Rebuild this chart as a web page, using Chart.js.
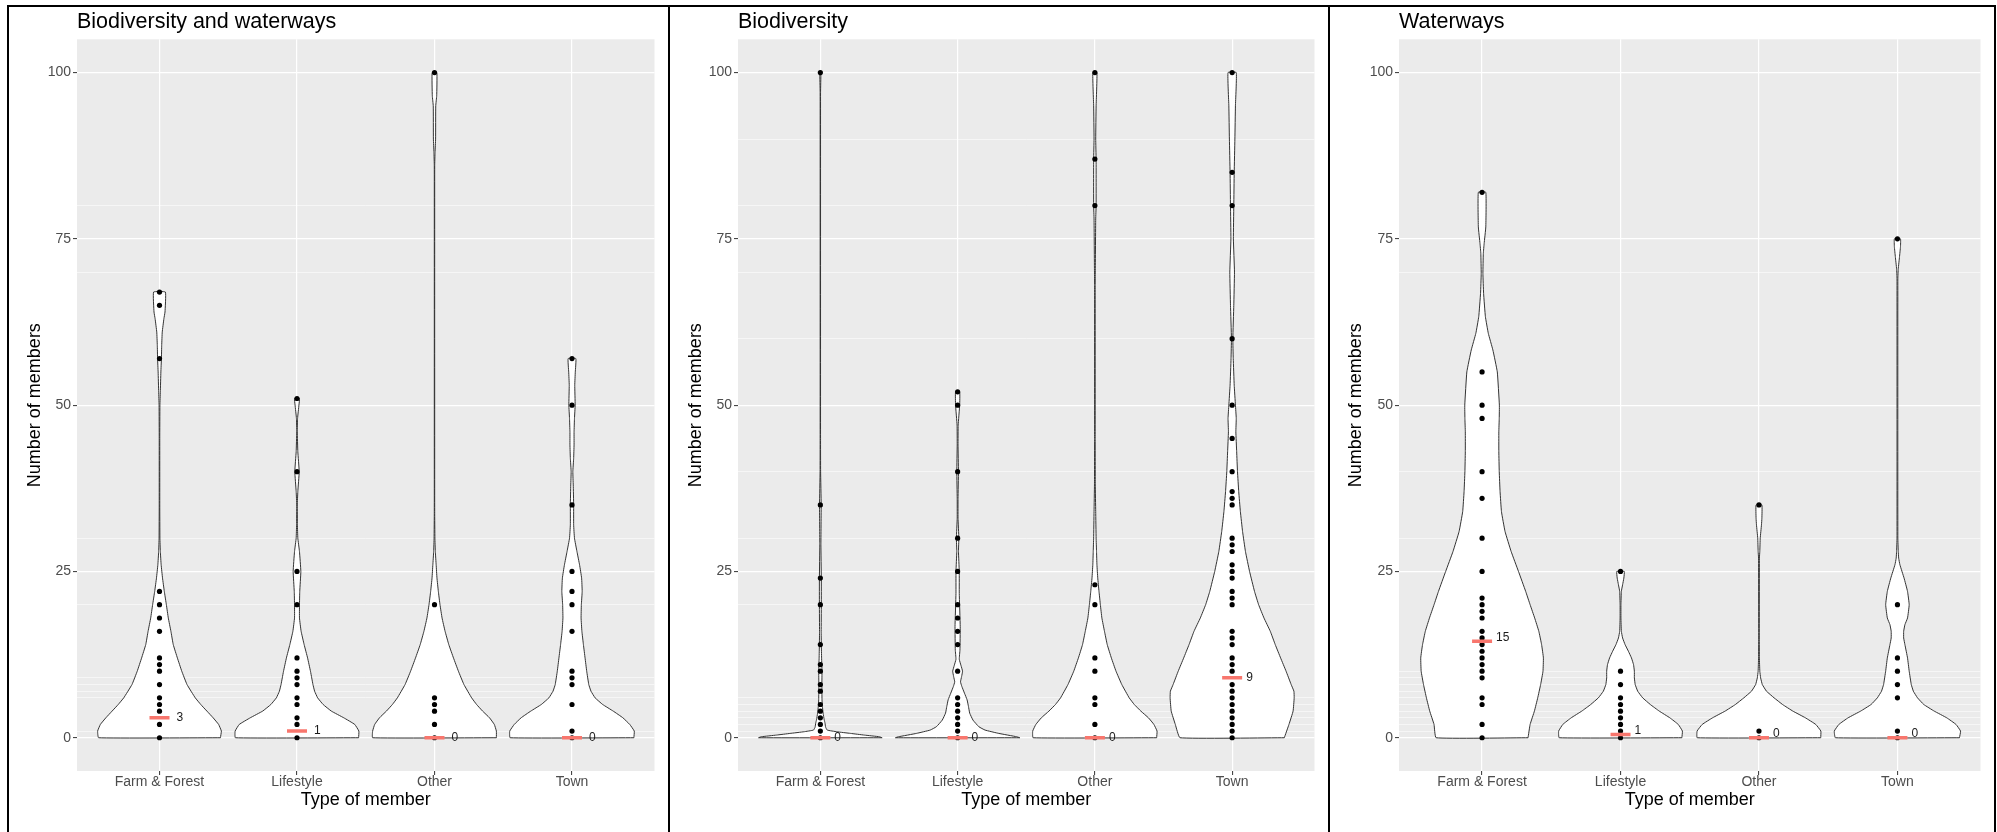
<!DOCTYPE html>
<html>
<head>
<meta charset="utf-8">
<script src="https://cdn.jsdelivr.net/npm/chart.js@4.4.1/dist/chart.umd.min.js"></script>
<style>
  body { margin: 0; background: #fff; }
  #wrap { position: relative; width: 1997px; height: 832px; overflow: hidden; }
  .line { position: absolute; background: #000; }
  canvas { position: absolute; }
</style>
</head>
<body>
<div id="wrap">
  <div class="line" style="left:7px;top:5px;width:1989px;height:2px"></div>
  <div class="line" style="left:7px;top:5px;width:2px;height:827px"></div>
  <div class="line" style="left:668px;top:5px;width:2px;height:827px"></div>
  <div class="line" style="left:1328px;top:5px;width:2px;height:827px"></div>
  <div class="line" style="left:1994px;top:5px;width:2px;height:827px"></div>
  <canvas id="chartBW" width="659" height="824" style="left:9px;top:8px"></canvas>
  <canvas id="chartB" width="658" height="824" style="left:670px;top:8px"></canvas>
  <canvas id="chartW" width="664" height="824" style="left:1330px;top:8px"></canvas>
</div>
<script>
// categorias y ejes
const categories = ['Farm & Forest', 'Lifestyle', 'Other', 'Town'];
const majorTicks = [0, 25, 50, 75, 100];
const minorTicksBW = [80, 70, 30, 20, 9, 8, 7, 6, 1];
const minorTicksB = [90, 80, 70, 60, 40, 30, 20, 6, 5, 4, 3, 2, 1];
const minorTicksW = [70, 40, 30, 10, 9, 8, 7, 6, 5, 4, 3, 2, 1];

// BIODIVERSITY AND WATERWAYS
const pointsBW = [
  [0, 2, 4, 5, 6, 8, 10, 11, 12, 16, 18, 20, 22, 57, 65, 67],
  [0, 2, 3, 5, 6, 8, 9, 10, 12, 20, 25, 40, 51],
  [0, 2, 4, 5, 6, 20, 100],
  [0, 1, 5, 8, 9, 10, 16, 20, 22, 25, 35, 50, 57]
];
const mediansBW = [3, 1, 0, 0];
const medianTextBW = ['3', '1', '0', '0'];
const violinYBW = [
  [0,1,2,3,4,5,6,8,10,12,14,16,18,20,22,24,26,28,30,35,45,50,52,55,57,59,61,63,64,67],
  [0,1,2,3,4,5,6,7,8,9,10,12,14,16,18,20,22,25,28,30,32,35,37,40,43,46,48,50,51],
  [0,1,2,3,4,5,6,8,10,12,14,16,18,20,22,24,26,28,30,34,86,88,90,95,96.5,100],
  [0,1,2,3,4,5,6,7,8,10,12,14,16,18,20,22,24,26,28,30,32,35,38,40,42,44,46,48,50,53,55,57]
];
const violinWBW = [
  [.443,.45,.43,.39,.345,.30,.26,.20,.162,.13,.10,.083,.064,.05,.035,.022,.012,.006,.003,.002,.002,.003,.006,.01,.014,.016,.02,.032,.04,.043],
  [.448,.45,.42,.34,.25,.19,.15,.128,.116,.107,.098,.077,.052,.03,.018,.018,.02,.028,.018,.006,.003,.002,.006,.016,.006,.002,.004,.014,.018],
  [.45,.45,.435,.40,.35,.306,.27,.214,.174,.138,.104,.077,.055,.04,.028,.018,.012,.006,.003,.0015,.0015,.004,.008,.009,.016,.017],
  [.45,.453,.42,.37,.30,.223,.168,.138,.122,.107,.095,.083,.072,.066,.068,.074,.07,.055,.036,.018,.012,.012,.009,.006,.012,.015,.015,.018,.023,.02,.024,.028]
];

// BIODIVERSITY
const pointsB = [
  [0, 1, 2, 3, 4, 5, 7, 8, 10, 11, 14, 20, 24, 35, 100],
  [0, 1, 2, 3, 4, 5, 6, 10, 14, 16, 18, 20, 25, 30, 40, 50, 52],
  [0, 2, 5, 6, 10, 12, 20, 23, 80, 87, 100],
  [0, 1, 2, 3, 4, 5, 6, 7, 8, 10, 11, 12, 14, 15, 16, 20, 21, 22, 24, 25, 26, 28, 29, 30, 35, 36, 37, 40, 45, 50, 60, 80, 85, 100]
];
const mediansB = [0, 0, 0, 9];
const medianTextB = ['0', '0', '0', '9'];
const violinYB = [
  [0,0.15,0.4,0.65,0.9,1.15,1.6,2.2,2.7,3.7,4.7,5.7,8,10,12,14,16,20,24,29,35,40,45,97,100],
  [0,0.15,0.65,1.15,1.65,2.65,3.7,4.7,5.7,6.7,7.7,8.4,9.2,10,10.9,11.8,13.2,16.7,21.7,25,28,30,33,36,40,44,47,50,52],
  [0,1,2,3,4,5,6,8,10,12,14,16,18,20,22,24,26,28,30,34,38,45,68,70,78,80,87,90,95,100],
  [0,2,4,6,7,8,10,12,14,16,18,20,22,25,28,31,34,37,40,43,46,48,50,53,57,60,65,70,75,80,85,90,95,100]
];
const violinWB = [
  [.45,.43,.32,.22,.12,.05,.038,.034,.028,.02,.015,.012,.011,.012,.009,.007,.006,.007,.007,.004,.006,.002,.0015,.0015,.004],
  [.453,.43,.3,.2,.155,.112,.088,.079,.069,.05,.031,.021,.029,.036,.024,.012,.017,.019,.012,.012,.006,.009,.003,.003,.006,.003,.004,.015,.015],
  [.45,.453,.43,.39,.335,.287,.25,.196,.154,.12,.09,.07,.051,.04,.03,.021,.015,.012,.009,.006,.003,.002,.002,.003,.006,.009,.009,.006,.009,.015],
  [.38,.414,.444,.452,.45,.43,.393,.353,.314,.278,.232,.193,.163,.127,.097,.076,.06,.048,.039,.033,.027,.03,.024,.015,.008,.005,.012,.017,.009,.012,.015,.02,.024,.03]
];

// WATERWAYS
const pointsW = [
  [0, 2, 5, 6, 9, 10, 11, 12, 13, 14, 15, 16, 18, 19, 20, 21, 25, 30, 36, 40, 48, 50, 55, 82],
  [0, 1, 2, 3, 4, 5, 6, 8, 10, 25],
  [0, 1, 35],
  [0, 1, 6, 8, 10, 12, 20, 75]
];
const mediansW = [14.5, 0.5, 0, 0];
const medianTextW = ['15', '1', '0', '0'];
const violinYW = [
  [0,2,4,6,8,10,12,14,16,18,20,22,25,28,31,34,37,40,43,46,48,50,55,58.3,60.8,63.3,66.8,69.8,72.8,74.3,76.8,82],
  [0,1,2,3,4,5,6,7,8,9,10,11,12,13,14,15,16,18,20,22,23,24,25],
  [0,1,2,3,4,5,6,7,8,9,10,12,15,27,28,30,32,33,35],
  [0,1,2,3,4,5,6,7,8,10,12,14,15,16,17,18,20,22,24,26,27,28,30,69,70.5,72.3,73.8,75]
];
const violinWW = [
  [.332,.347,.378,.402,.423,.44,.443,.43,.41,.38,.347,.315,.263,.21,.166,.14,.13,.124,.121,.121,.124,.125,.11,.078,.045,.024,.011,.006,.009,.015,.027,.027],
  [.443,.447,.417,.356,.28,.215,.16,.124,.106,.1,.1,.094,.079,.057,.033,.015,.006,.003,.003,.006,.015,.024,.027],
  [.446,.447,.41,.335,.245,.17,.109,.054,.024,.012,.006,.003,.002,.003,.006,.009,.018,.021,.021],
  [.448,.456,.423,.356,.266,.19,.145,.115,.1,.085,.073,.054,.045,.045,.054,.073,.085,.073,.048,.018,.009,.006,.003,.003,.006,.015,.022,.022]
];

Chart.defaults.font.family = '"Liberation Sans", Arial, sans-serif';

// fondo gris del panel
const panelBg = {
  id: 'panelBg',
  beforeDraw(chart) {
    const a = chart.chartArea;
    const ctx = chart.ctx;
    ctx.save();
    ctx.fillStyle = '#EBEBEB';
    ctx.fillRect(a.left, a.top, a.right - a.left, a.bottom - a.top);
    ctx.restore();
  }
};

// etiquetas de la mediana
const medianLabels = {
  id: 'medianLabels',
  afterDatasetsDraw(chart, args, opts) {
    const ctx = chart.ctx;
    const xs = chart.scales.x, ys = chart.scales.y;
    ctx.save();
    ctx.font = '12px "Liberation Sans", Arial, sans-serif';
    ctx.fillStyle = '#1a1a1a';
    ctx.textAlign = 'left';
    ctx.textBaseline = 'middle';
    opts.values.forEach((m, i) => {
      ctx.fillText(opts.texts[i], xs.getPixelForValue(i) + opts.dx, ys.getPixelForValue(m) + opts.dy);
    });
    ctx.restore();
  }
};

function violinPath(c, ys, ws) {
  const right = ys.map((y, i) => ({ x: c + ws[i], y: y }));
  const left = ys.map((y, i) => ({ x: c - ws[i], y: y })).reverse();
  return right.concat(left, [right[0]]);
}

function makePanel(id, title, points, medians, medianText, violinY, violinW, minorTicks, padRight, dx, dy) {
  const datasets = [];
  categories.forEach((cat, c) => {
    datasets.push({
      type: 'line',
      data: violinPath(c, violinY[c], violinW[c]),
      borderColor: '#333333',
      borderWidth: 1,
      borderJoinStyle: 'round',
      backgroundColor: '#ffffff',
      fill: 'shape',
      pointRadius: 0,
      tension: 0.1, // evita el trazado rapido por columnas de pixel
      order: 3
    });
    datasets.push({
      type: 'scatter',
      data: points[c].map(v => ({ x: c, y: v })),
      backgroundColor: '#000000',
      borderWidth: 0,
      pointRadius: 2.6,
      order: 2
    });
  });
  datasets.push({
    type: 'scatter',
    data: medians.map((m, c) => ({ x: c, y: m })),
    pointStyle: 'line',
    pointRadius: 10,
    borderColor: '#F8766D',
    borderWidth: 3.5,
    order: 1
  });

  const yTicks = majorTicks.concat(minorTicks);

  new Chart(document.getElementById(id), {
    type: 'scatter',
    data: { datasets: datasets },
    plugins: [panelBg, medianLabels],
    options: {
      responsive: false,
      devicePixelRatio: 1,
      animation: false,
      events: [],
      layout: { padding: { left: 0, right: padRight, top: 0, bottom: 0 } },
      plugins: {
        legend: { display: false },
        tooltip: { enabled: false },
        title: {
          display: true,
          text: title,
          align: 'start',
          fullSize: false,
          color: '#000000',
          font: { size: 21.5, weight: 'normal' },
          padding: { top: 0.8, bottom: 4.7 }
        },
        medianLabels: { values: medians, texts: medianText, dx: dx, dy: dy }
      },
      scales: {
        x: {
          type: 'linear',
          min: -0.6,
          max: 3.6,
          afterBuildTicks: s => { s.ticks = categories.map((c, i) => ({ value: i })); },
          afterFit: s => { s.height = 61; },
          ticks: {
            autoSkip: false,
            maxRotation: 0,
            padding: -1,
            color: '#4D4D4D',
            font: { size: 14 },
            callback: v => categories[v]
          },
          grid: { color: '#ffffff', lineWidth: 1.2, tickLength: 4, tickColor: '#333333', tickWidth: 1 },
          border: { display: false },
          title: {
            display: true,
            text: 'Type of member',
            color: '#000000',
            font: { size: 18 },
            padding: { top: 0, bottom: 21.5 }
          }
        },
        y: {
          type: 'linear',
          min: -5,
          max: 105,
          afterBuildTicks: s => { s.ticks = yTicks.map(v => ({ value: v })); },
          afterFit: s => { s.width = (id === 'chartW') ? 69 : 68; },
          ticks: {
            autoSkip: false,
            padding: 2,
            color: '#4D4D4D',
            font: { size: 14 },
            callback: v => majorTicks.includes(v) ? String(v) : ''
          },
          grid: {
            color: ctx => majorTicks.includes(ctx.tick.value) ? '#ffffff' : 'rgba(255,255,255,0.6)',
            lineWidth: ctx => majorTicks.includes(ctx.tick.value) ? 1.2 : 0.9,
            tickLength: 4,
            tickColor: ctx => majorTicks.includes(ctx.tick.value) ? '#333333' : 'rgba(0,0,0,0)',
            tickWidth: 1
          },
          border: { display: false },
          title: {
            display: true,
            text: 'Number of members',
            color: '#000000',
            font: { size: 18 },
            padding: { top: 15.7, bottom: 0 }
          }
        }
      }
    }
  });
}

makePanel('chartBW', 'Biodiversity and waterways', pointsBW, mediansBW, medianTextBW, violinYBW, violinWBW, minorTicksBW, 5, 17, 0);
makePanel('chartB', 'Biodiversity', pointsB, mediansB, medianTextB, violinYB, violinWB, minorTicksB, 4, 14, 0);
makePanel('chartW', 'Waterways', pointsW, mediansW, medianTextW, violinYW, violinWW, minorTicksW, 3, 14, -4);
</script>
</body>
</html>
